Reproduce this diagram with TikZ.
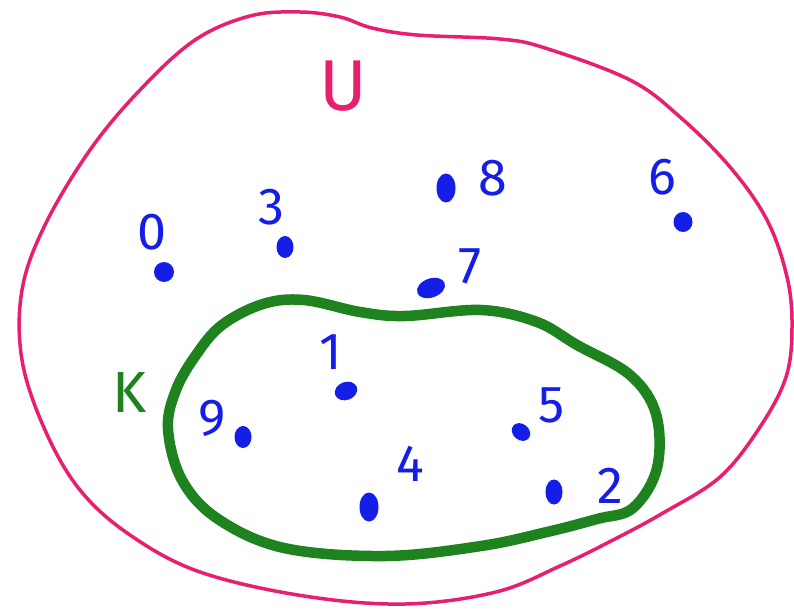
\documentclass[tikz,border=0pt]{standalone}
\usepackage{fontspec}
\setmainfont{Fira Sans}
\usetikzlibrary{shapes.geometric}
\definecolor{upink}{RGB}{232,30,110}
\definecolor{kgreen}{RGB}{30,130,30}
\definecolor{eblue}{RGB}{20,30,230}
\begin{document}
\begin{tikzpicture}[x=1pt,y=-1pt,
  numlabel/.style={text=eblue,inner sep=0pt,font=\fontsize{52}{52}\selectfont},
  elemdot/.style={fill=eblue,draw=none,ellipse,minimum width=17pt,minimum height=22pt,inner sep=0pt},
  ]
\useasboundingbox (0,0) rectangle (794,612);
\fill[white] (0,0) rectangle (794,612);
% universe
\draw[upink,line width=3.5pt] plot[smooth cycle,tension=0.6] coordinates {
 (250,16) (300,12) (340,17) (372,28) (417,35) (500,39) (545,48) (630,80) (680,117)
 (730,167) (767,220) (787,277) (792,327) (786,377) (760,427) (720,477) (663,513)
 (613,540) (560,566) (496,592) (405,604) (304,596) (200,572) (130,535) (80,490)
 (45,430) (22,360) (22,290) (45,225) (90,150) (140,90) (195,40)};
% set K
\draw[kgreen,line width=10.5pt] plot[smooth cycle,tension=0.6] coordinates {
 (263,304) (304,300) (360,312) (405,316) (481,310) (537,322) (577,345) (630,375)
 (656,414) (657,468) (633,508) (597,519) (547,532) (481,546) (385,556) (284,548)
 (218,519) (182,480) (168,429) (176,390) (196,355) (222,325)};
\node[text=upink,inner sep=0pt,font=\fontsize{72}{72}\selectfont] (U) at (343,86) {U};
\node[text=kgreen,inner sep=0pt,font=\fontsize{58}{58}\selectfont] (K) at (130,393) {K};
% elements
\node[numlabel] (l0) at (152,232) {0};
\node[elemdot,minimum width=20pt,minimum height=20pt]  (d0) at (164,272) {};
\node[numlabel] (l3) at (271,207) {3};
\node[elemdot]  (d3) at (285,247) {};
\node[elemdot,minimum width=19pt,minimum height=29pt]  (d8) at (446,188) {};
\node[numlabel] (l8) at (493,178) {8};
\node[numlabel] (l6) at (662,177) {6};
\node[elemdot,minimum width=19pt,minimum height=20pt]  (d6) at (683,222) {};
\node[numlabel] (l7) at (470,266) {7};
\node[elemdot,minimum width=29pt,minimum height=19pt,rotate=20] (d7) at (431,288) {};
\node[numlabel] (l1) at (331,352) {1};
\node[elemdot,minimum width=23pt,minimum height=18pt,rotate=20]  (d1) at (346,391) {};
\node[numlabel] (l9) at (212,418) {9};
\node[elemdot]  (d9) at (243,437) {};
\node[numlabel] (l5) at (552,405) {5};
\node[elemdot,minimum width=20pt,minimum height=16pt,rotate=-40]  (d5) at (521,432) {};
\node[numlabel] (l4) at (410,464) {4};
\node[elemdot,minimum width=19pt,minimum height=29pt]  (d4) at (369,507) {};
\node[numlabel] (l2) at (610,486) {2};
\node[elemdot,minimum width=17pt,minimum height=25pt]  (d2) at (554,492) {};
\end{tikzpicture}
\end{document}
